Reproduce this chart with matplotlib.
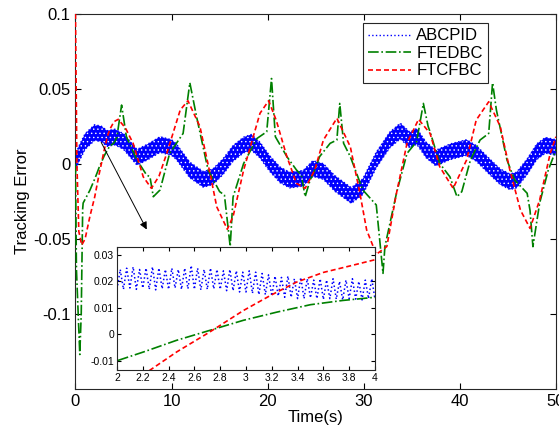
import numpy as np
import matplotlib
matplotlib.use("Agg")
import matplotlib.pyplot as plt

plt.rcParams["font.family"] = ["Liberation Sans", "DejaVu Sans"]
plt.rcParams["hatch.linewidth"] = 0.5

# ==============================
# DATA
# ==============================

# ABCPID: centre of the fast-ripple band in the main plot
abc_t = [0, 0.3, 1.0, 2.0, 2.7, 3.3, 4.1, 5.0, 6.4, 7.5, 8.8, 10.0, 10.5, 11.9,
         13.3, 14.3, 15.35, 16.4, 17.5, 18.3, 19.2, 20.2, 21.3, 22.3, 23.7, 24.7,
         25.8, 27.0, 28.7, 29.9, 31.3, 32.7, 33.8, 34.8, 35.5, 36.5, 37.5, 39.0,
         40.7, 41.7, 43.1, 44.2, 45.2, 45.9, 47.0, 48.0, 48.9, 50.0]
abc_c = [0.0, 0.006, 0.015, 0.021, 0.020, 0.017, 0.018, 0.015, 0.0045, 0.008,
         0.013, 0.011, 0.0082, -0.004, -0.0102, -0.0085, -0.0018, 0.0071, 0.0127,
         0.0145, 0.0093, 0.0004, -0.0073, -0.0107, -0.0095, -0.003, -0.005, -0.013,
         -0.021, -0.0151, 0.0027, 0.016, 0.022, 0.016, 0.0185, 0.0093, 0.004,
         0.0082, 0.011, 0.0071, -0.0018, -0.0085, -0.0118, -0.0107, -0.0018,
         0.0082, 0.0125, 0.011]
abc_half = 0.0052  # half height of the ripple band

# ABCPID ripple in the inset (2 s .. 4 s, about 40 cycles)
inset_peaks = [0.0245, 0.025, 0.0255, 0.0245, 0.025, 0.0255, 0.025, 0.0245, 0.025, 0.0245,
               0.025, 0.026, 0.025, 0.0245, 0.025, 0.0245, 0.024, 0.0245, 0.024, 0.0235,
               0.024, 0.0235, 0.023, 0.0225, 0.022, 0.0215, 0.022, 0.021, 0.0215, 0.021,
               0.0205, 0.021, 0.0205, 0.021, 0.020, 0.0205, 0.021, 0.020, 0.0205, 0.021]
inset_troughs = [0.017, 0.0175, 0.017, 0.0175, 0.017, 0.0168, 0.0172, 0.017, 0.0175, 0.017,
                 0.0172, 0.017, 0.0168, 0.017, 0.0172, 0.017, 0.0165, 0.0165, 0.016, 0.016,
                 0.0155, 0.015, 0.015, 0.0145, 0.0145, 0.014, 0.014, 0.0135, 0.0135, 0.0138,
                 0.0135, 0.0132, 0.0135, 0.0133, 0.013, 0.0135, 0.0133, 0.013, 0.0135, 0.0133]

# FTEDBC
fted_t = [0, 0.1, 0.45, 0.6, 0.75, 0.8, 1.5, 2.0, 2.21, 2.46, 2.72, 2.98, 3.24, 3.5,
          3.75, 4.0, 4.3, 4.8, 5.3, 6.4, 7.4, 7.75, 8.1, 8.8, 9.8, 11.2, 11.9, 12.6,
          13.8, 15.0, 15.5, 16.1, 16.4, 17.5, 18.9, 19.9, 20.4, 20.8, 22.0, 23.0, 23.5,
          23.9, 24.4, 24.9, 25.4, 26.5, 27.2, 27.5, 27.9, 28.6, 29.9, 31.3, 32.0, 32.2,
          33.4, 34.5, 35.5, 36.2, 36.7, 36.9, 37.9, 38.96, 39.7, 40.2, 41.1, 42.1, 43.0,
          43.4, 43.8, 44.9, 45.7, 47.0, 47.3, 47.6, 48.3, 49.2, 50.0]
fted_y = [0.0, -0.07, -0.127, -0.1, -0.03, -0.026, -0.0175, -0.010, -0.0066, -0.0023,
          0.0015, 0.0053, 0.0084, 0.0112, 0.0128, 0.014, 0.0175, 0.0393, 0.0182, 0.0027,
          -0.0073, -0.0085, -0.0218, -0.0173, 0.0071, 0.0204, 0.0542, 0.0316, -0.004,
          -0.0184, -0.0207, -0.055, -0.022, 0.0004, 0.0171, 0.0215, 0.057, 0.0182, 0.0049,
          -0.004, -0.0073, -0.0218, -0.011, -0.004, 0.0049, 0.0138, 0.016, 0.0404, 0.0138,
          0.0049, -0.0173, -0.0273, -0.0729, -0.055, -0.0195, 0.0071, 0.0149, 0.0404, 0.025,
          0.0215, 0.0004, -0.0085, -0.0218, -0.0184, 0.0027, 0.016, 0.0204, 0.0542, 0.036,
          0.0027, -0.0107, -0.0195, -0.031, -0.0551, -0.026, -0.004, 0.0093]

# FTCFBC
ftcf_t = [0, 0.15, 0.35, 0.65, 1.0, 1.5, 2.0, 2.245, 2.465, 2.72, 2.98, 3.19, 3.39, 3.6,
          3.81, 4.0, 4.45, 5.2, 6.0, 7.05, 7.9, 8.7, 9.5, 10.9, 11.7, 12.95, 14.0, 14.7,
          15.8, 16.4, 17.5, 18.3, 19.2, 20.1, 20.9, 22.0, 23.0, 23.9, 24.9, 25.8, 27.2,
          28.6, 29.6, 30.3, 31.3, 32.4, 33.4, 34.5, 35.7, 36.9, 37.9, 39.3, 40.7, 41.7,
          43.0, 44.2, 45.2, 46.3, 47.3, 48.3, 49.4, 50.0]
ftcf_y = [0.1, 0.0, -0.045, -0.054, -0.05, -0.035, -0.022, -0.0139, -0.0066, 0.0009,
          0.009, 0.0147, 0.0197, 0.0234, 0.0259, 0.0282, 0.0298, 0.024, 0.0138, -0.0085,
          -0.0162, -0.008, 0.0071, 0.036, 0.0422, 0.025, -0.0062, -0.0285, -0.0435, -0.035,
          -0.004, 0.0138, 0.0338, 0.0422, 0.029, 0.0049, -0.0129, -0.0162, -0.004, 0.016,
          0.0305, 0.0115, -0.0196, -0.044, -0.0602, -0.055, -0.0195, 0.0138, 0.0298, 0.0204,
          -0.0018, -0.0162, 0.0027, 0.0293, 0.0415, 0.025, -0.004, -0.0307, -0.0429, -0.024,
          0.0071, 0.0182]

x_ticks = [0, 10, 20, 30, 40, 50]
y_ticks = [-0.1, -0.05, 0, 0.05, 0.1]
inset_x_ticks = [2, 2.2, 2.4, 2.6, 2.8, 3, 3.2, 3.4, 3.6, 3.8, 4]
inset_y_ticks = [-0.01, 0, 0.01, 0.02, 0.03]

# ==============================
# STYLES
# ==============================

BLUE = "#0000ff"
GREEN = "#008000"
RED = "#ff0000"

abc_c = np.array(abc_c)

# ==============================
# MAIN AXES
# ==============================

fig = plt.figure(figsize=(5.59, 4.30), dpi=100)
ax = fig.add_axes([0.135, 0.0953, 0.8596, 0.8721])

ax.fill_between(abc_t, abc_c - abc_half, abc_c + abc_half, facecolor=BLUE,
                edgecolor="white", hatch="....", linewidth=0, zorder=2)
ax.plot(abc_t, abc_c + abc_half, ":", color=BLUE, lw=1.0, zorder=2)
ax.plot(abc_t, abc_c - abc_half, ":", color=BLUE, lw=1.0, zorder=2)
ax.plot([], [], ":", color=BLUE, lw=1.0, label="ABCPID")
ax.plot(fted_t, fted_y, "-.", color=GREEN, lw=1.2, label="FTEDBC", zorder=3)
ax.plot(ftcf_t, ftcf_y, "--", color=RED, lw=1.2, dashes=(3, 1.8), label="FTCFBC", zorder=4)

ax.set_xlim(0, 50)
ax.set_ylim(-0.15, 0.1)
ax.set_xticks(x_ticks)
ax.set_yticks(y_ticks)
ax.set_yticklabels(["-0.1", "-0.05", "0", "0.05", "0.1"])
ax.tick_params(direction="in", top=True, right=True, labelsize=12, length=4)
ax.set_xlabel("Time(s)", fontsize=12, labelpad=1)
ax.set_ylabel("Tracking Error", fontsize=12, labelpad=2)
for s in ax.spines.values():
    s.set_color("#262626")

leg = ax.legend(loc="upper right", bbox_to_anchor=(0.858, 0.975), borderaxespad=0,
                fontsize=12, handlelength=2.6, handletextpad=0.3, labelspacing=0.15,
                borderpad=0.3, fancybox=False, framealpha=1)
leg.get_frame().set_edgecolor("#262626")
leg.get_frame().set_linewidth(0.8)

ax.annotate("", xy=(7.55, -0.0453), xytext=(2.55, 0.016),
            arrowprops=dict(arrowstyle="-|>", color="black", lw=0.7,
                            mutation_scale=11), zorder=5)

# ==============================
# INSET
# ==============================

ins = fig.add_axes([0.2093, 0.1395, 0.4615, 0.286])
n = len(inset_peaks)
rip_t = np.linspace(2, 4, 2 * n + 1)
rip_y = [inset_troughs[0]]
for p, q in zip(inset_peaks, inset_troughs):
    rip_y += [p, q]
ins.plot(rip_t, rip_y, ":", color=BLUE, lw=1.1)
ins.plot(fted_t, fted_y, "-.", color=GREEN, lw=1.2)
ins.plot(ftcf_t, ftcf_y, "--", color=RED, lw=1.2, dashes=(3, 1.8))
ins.set_xlim(2, 4)
ins.set_ylim(-0.0135, 0.033)
ins.set_xticks(inset_x_ticks)
ins.set_xticklabels(["2", "2.2", "2.4", "2.6", "2.8", "3", "3.2", "3.4", "3.6", "3.8", "4"])
ins.set_yticks(inset_y_ticks)
ins.set_yticklabels(["-0.01", "0", "0.01", "0.02", "0.03"])
ins.tick_params(direction="in", top=True, right=True, labelsize=7.5, length=3, pad=2)
for s in ins.spines.values():
    s.set_color("#262626")

fig.savefig("out.png", dpi=100)
